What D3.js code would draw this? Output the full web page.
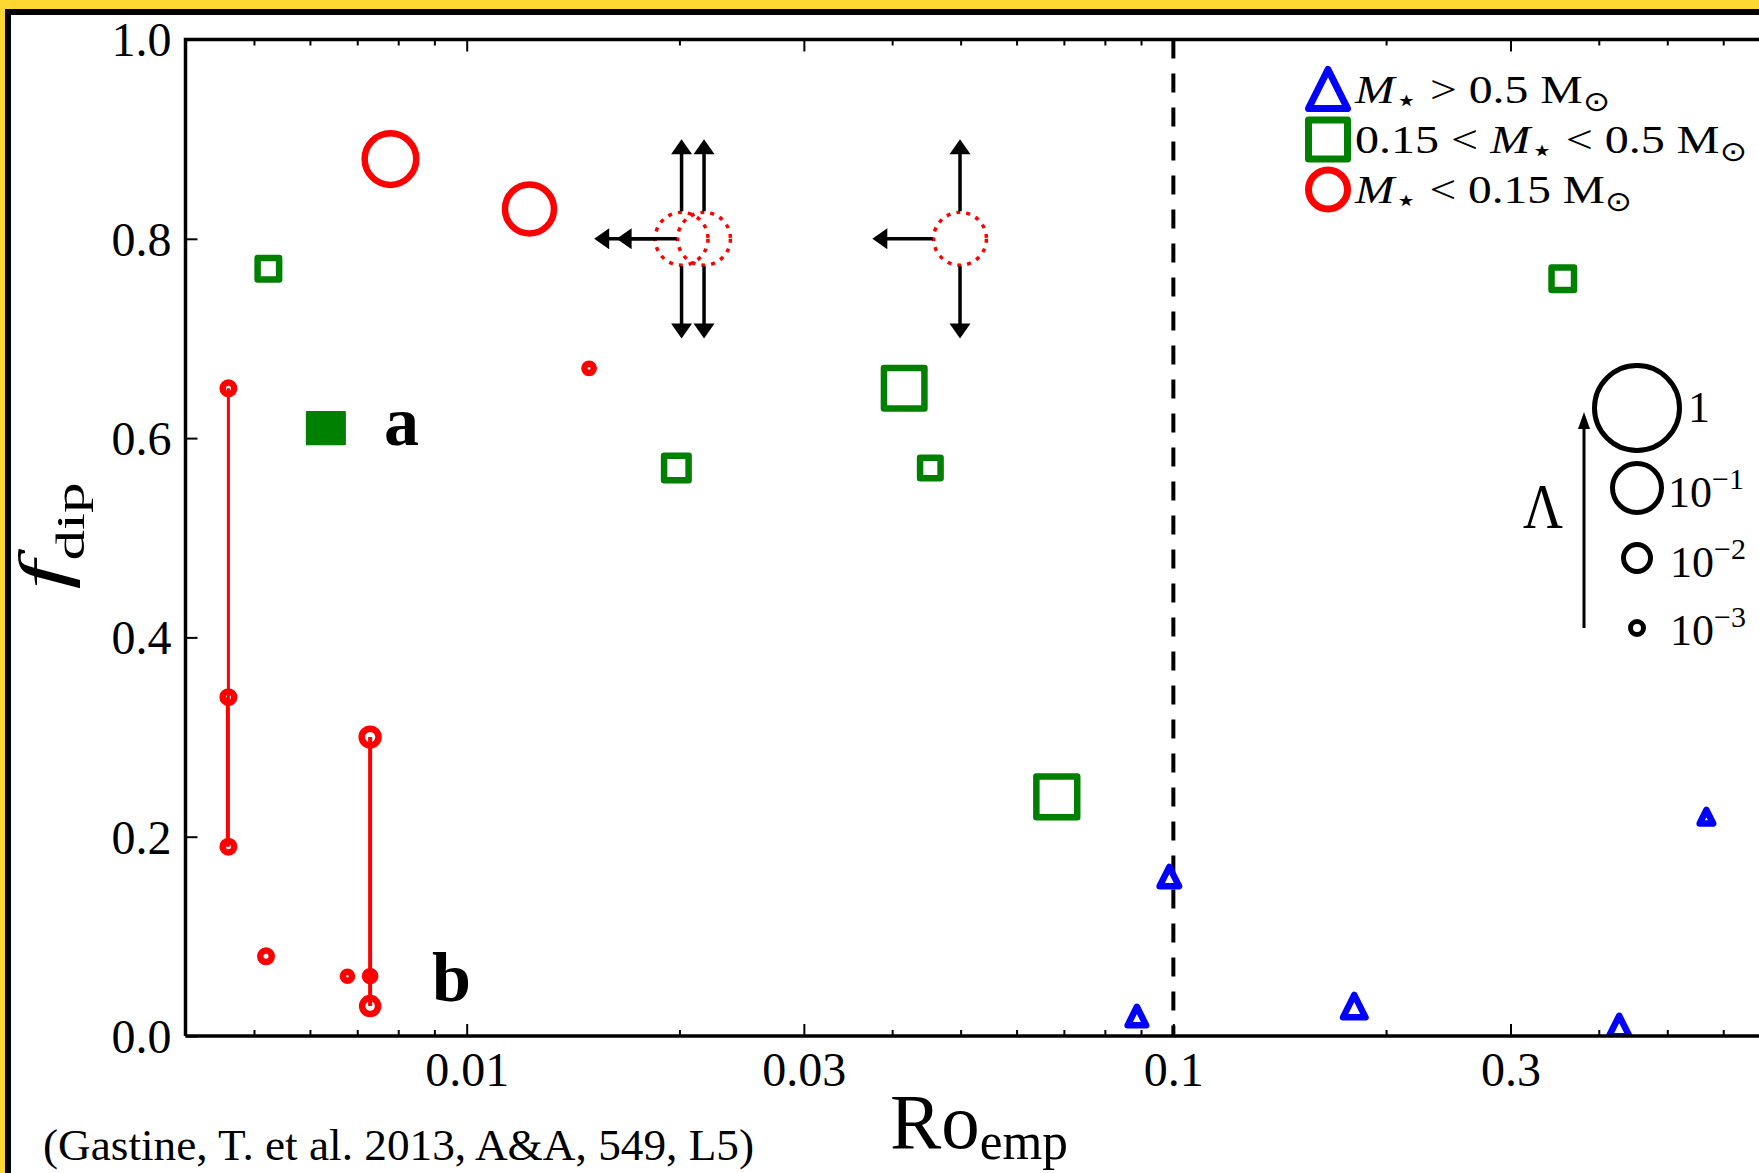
<!DOCTYPE html>
<html><head><meta charset="utf-8">
<script src="https://cdn.jsdelivr.net/npm/d3@7"></script>
<style>
body{margin:0;background:#fff}
svg{display:block}
text{font-family:"Liberation Serif","Times New Roman",serif;fill:#000}
</style>
</head><body>
<svg id="c" width="1759" height="1173"></svg>
<script>
// ---------------- DATA ----------------
// M* < 0.15 Msun (red circles): Ro_emp, f_dip, Lambda
const redX   = [0.0078, 0.01227, 0.0149, 0.0046, 0.0046, 0.0046, 0.0052, 0.00678, 0.0073, 0.0073, 0.0073];
const redY   = [0.88,   0.83,    0.67,   0.65,   0.34,   0.19,   0.08,   0.06,    0.30,   0.06,   0.03];
const redLam = [0.13,   0.11,    0.0007, 0.001,  0.001,  0.001,  0.001,  0.00067, 0.0024, 0.0008, 0.0021];
// multi-epoch links (same star observed several times)
const linkX  = [0.00460, 0.004585, 0.0073];
const linkY0 = [0.65,    0.34,     0.30];
const linkY1 = [0.19,    0.19,     0.03];
// upper limits (dotted red circles with arrows)
const ulX    = [0.02014, 0.02167, 0.0499];
const ulY    = [0.80,    0.80,    0.80];
const ulLam  = [0.12,    0.12,    0.12];
const ulLeftX = [0.01515, 0.0163, 0.0375];
const ulUpY   = [0.90, 0.90, 0.90];
const ulDownY = [0.70, 0.70, 0.70];
// 0.15 < M* < 0.5 Msun (green squares)
const grnX   = [0.00524, 0.0198, 0.0416, 0.0453, 0.0684, 0.3557];
const grnY   = [0.77,    0.57,   0.65,   0.57,   0.24,   0.76];
const grnLam = [0.0052,  0.0085, 0.048,  0.0044, 0.05,   0.0061];
// filled square "a"
const aX = [0.00632], aY = [0.61], aLam = [0.017];
// M* > 0.5 Msun (blue triangles)
const bluX   = [0.0987, 0.0888, 0.1803, 0.4275, 0.568, 0.70];
const bluY   = [0.16,   0.02,   0.03,   0.01,   0.22,  0.21];
const bluLam = [0.0037, 0.0032, 0.0061, 0.0044, 0.0014, 0.0014];
// size legend
const lamLegend = [1, 0.1, 0.01, 0.001];
const lamLabels = [["1",""], ["10","\u22121"], ["10","\u22122"], ["10","\u22123"]];
// axes
const xMajor = [0.01, 0.03, 0.1, 0.3];
const xMajorLabels = ["0.01", "0.03", "0.1", "0.3"];
const xMinor = [0.005,0.006,0.007,0.008,0.009,0.02,0.04,0.05,0.06,0.07,0.08,0.09,0.2,0.4,0.5,0.6,0.7,0.8,0.9];
const yTicks = [0, 0.2, 0.4, 0.6, 0.8, 1.0];
const yTickLabels = ["0.0","0.2","0.4","0.6","0.8","1.0"];
const roCrit = 0.1;

// ---------------- LAYOUT ----------------
const W = 1759, H = 1173;
const L = 185.5, T = 39.5, B = 1036, R = 1880;
const svg = d3.select('#c');
const x = d3.scaleLog().domain([0.004, 1]).range([L, R]);
const y = d3.scaleLinear().domain([0, 1]).range([B, T]);
const size = d3.scaleLog().domain([1e-3, 1e-2, 1e-1, 1]).range([18, 32, 54, 90]);

const RED = '#ff0000', GRN = '#008000', BLU = '#0000ff';

// frame
svg.append('rect').attr('width', W).attr('height', H).attr('fill', '#FFD731');
svg.append('rect').attr('x', 5).attr('y', 9).attr('width', W).attr('height', H).attr('fill', '#000');
svg.append('rect').attr('x', 11).attr('y', 15).attr('width', W).attr('height', H).attr('fill', '#fff');

svg.append('clipPath').attr('id', 'pc').append('rect')
  .attr('x', L).attr('y', T).attr('width', R - L).attr('height', B - T);
const plot = svg.append('g').attr('clip-path', 'url(#pc)');

// critical Rossby line
plot.append('line')
  .attr('x1', x(roCrit)).attr('x2', x(roCrit)).attr('y1', T).attr('y2', B)
  .attr('stroke', '#000').attr('stroke-width', 4).attr('stroke-dasharray', '19,15');

// links
plot.selectAll('.lnk').data(linkX).join('line')
  .attr('x1', d => x(d)).attr('x2', d => x(d))
  .attr('y1', (d, i) => y(linkY0[i])).attr('y2', (d, i) => y(linkY1[i]))
  .attr('stroke', RED).attr('stroke-width', (d, i) => i === 2 ? 4 : 3);

const SW = 6.5;
// red circles
plot.selectAll('.rc').data(redX).join('circle')
  .attr('cx', d => x(d)).attr('cy', (d, i) => y(redY[i]))
  .attr('r', (d, i) => Math.max(size(redLam[i]) / 2 - SW / 2, 0.8))
  .attr('fill', 'none').attr('stroke', RED).attr('stroke-width', SW);

// upper limits
plot.selectAll('.ul').data(ulX).join('circle')
  .attr('cx', d => x(d)).attr('cy', (d, i) => y(ulY[i]))
  .attr('r', (d, i) => size(ulLam[i]) / 2 - 2)
  .attr('fill', 'none').attr('stroke', RED).attr('stroke-width', 3.5).attr('stroke-dasharray', '4,6');

function arrow(g, x0, y0, x1, y1, sw, hw, hl) {
  const dx = x1 - x0, dy = y1 - y0, len = Math.hypot(dx, dy), ux = dx / len, uy = dy / len;
  const bx = x1 - ux * hl, by = y1 - uy * hl;
  g.append('line').attr('x1', x0).attr('y1', y0).attr('x2', bx + ux).attr('y2', by + uy)
    .attr('stroke', '#000').attr('stroke-width', sw);
  g.append('path').attr('d', `M${x1},${y1}L${bx - uy * hw / 2},${by + ux * hw / 2}L${bx + uy * hw / 2},${by - ux * hw / 2}Z`)
    .attr('fill', '#000');
}
ulX.forEach((d, i) => {
  const cx = x(d), cy = y(ulY[i]), r = size(ulLam[i]) / 2;
  arrow(plot, cx, cy - r + 1, cx, y(ulUpY[i]), 3.5, 21, 15);
  arrow(plot, cx, cy + r - 1, cx, y(ulDownY[i]), 3.5, 21, 15);
  arrow(plot, cx - r + 1, cy, x(ulLeftX[i]), cy, 3.5, 21, 15);
});

// green squares
function sqPath(s) { const h = (s - SW) / 2; return `M${-h},${-h}H${h}V${h}H${-h}Z`; }
plot.selectAll('.gs').data(grnX).join('path')
  .attr('transform', (d, i) => `translate(${x(d)},${y(grnY[i])})`)
  .attr('d', (d, i) => sqPath(size(grnLam[i])))
  .attr('fill', 'none').attr('stroke', GRN).attr('stroke-width', SW).attr('stroke-linejoin', 'round');
plot.selectAll('.ga').data(aX).join('rect')
  .attr('x', (d, i) => x(d) - size(aLam[i]) * 0.54 + 1).attr('y', (d, i) => y(aY[i]) - size(aLam[i]) * 0.46 + 1)
  .attr('width', (d, i) => size(aLam[i]) * 1.08 - 2).attr('height', (d, i) => size(aLam[i]) * 0.92 - 2)
  .attr('fill', GRN).attr('stroke', GRN).attr('stroke-width', 2).attr('stroke-linejoin', 'round');

// blue triangles
function triPath(s, sw) { const h = (s - sw) / 2; return `M0,${-h}L${h},${h}L${-h},${h}Z`; }
plot.selectAll('.bt').data(bluX).join('path')
  .attr('transform', (d, i) => `translate(${x(d)},${y(bluY[i])})`)
  .attr('d', (d, i) => triPath(size(bluLam[i]), SW))
  .attr('fill', 'none').attr('stroke', BLU).attr('stroke-width', SW).attr('stroke-linejoin', 'round');

// point labels
svg.append('text').attr('x', x(aX[0]) + 58).attr('y', y(aY[0]) + 17).attr('font-size', 70).attr('font-weight', 'bold').text('a');
svg.append('text').attr('x', x(0.0073) + 62).attr('y', y(0.035)).attr('font-size', 70).attr('font-weight', 'bold').text('b');

// ---------------- AXES ----------------
function styleAxis(g) {
  g.select('.domain').remove();
  g.selectAll('.tick line').attr('stroke', '#000').attr('stroke-width', 2);
}
const gB = svg.append('g').attr('transform', `translate(0,${B})`)
  .call(d3.axisBottom(x).tickValues(xMajor).tickSize(-12).tickPadding(14).tickFormat((d, i) => xMajorLabels[i]));
styleAxis(gB);
gB.selectAll('.tick text').attr('font-size', 48).attr('font-family', '"Liberation Serif",serif').attr('y', 16).attr('dy', '0.71em');
svg.append('g').attr('transform', `translate(0,${B})`)
  .call(d3.axisBottom(x).tickValues(xMinor).tickSize(-6).tickFormat('')).call(styleAxis);
svg.append('g').attr('transform', `translate(0,${T})`)
  .call(d3.axisTop(x).tickValues(xMajor).tickSize(-12).tickFormat('')).call(styleAxis);
svg.append('g').attr('transform', `translate(0,${T})`)
  .call(d3.axisTop(x).tickValues(xMinor).tickSize(-6).tickFormat('')).call(styleAxis);
const gL = svg.append('g').attr('transform', `translate(${L},0)`)
  .call(d3.axisLeft(y).tickValues(yTicks).tickSize(-12).tickPadding(14).tickFormat((d, i) => yTickLabels[i]));
styleAxis(gL);
gL.selectAll('.tick text').attr('font-size', 48).attr('font-family', '"Liberation Serif",serif').attr('dy', '0.34em');
// spines
svg.append('path').attr('d', `M${L},${B}V${T}H${W + 5}M${L},${B}H${W + 5}`)
  .attr('fill', 'none').attr('stroke', '#000').attr('stroke-width', 3.5);

// ---------------- TEXT ----------------
function rich(parent, x0, y0, fs, parts, opts = {}) {
  const t = parent.append('text').attr('font-size', fs);
  if (opts.transform) t.attr('transform', opts.transform); else t.attr('x', x0).attr('y', y0);
  if (opts.anchor) t.attr('text-anchor', opts.anchor);
  let cur = 0;
  parts.forEach(p => {
    const shift = p.sub ? fs * (p.shift || 0.22) : p.sup ? -fs * (p.shift || 0.42) : 0;
    const ts = t.append('tspan').text(p.t).attr('dy', shift - cur);
    cur = shift;
    if (p.fs) ts.attr('font-size', p.fs);
    else if (p.sub || p.sup) ts.attr('font-size', fs * 0.7);
    if (p.it) ts.attr('font-style', 'italic');
    if (p.font) ts.attr('font-family', p.font);
  });
  if (opts.width) t.attr('textLength', opts.width).attr('lengthAdjust', 'spacingAndGlyphs');
  return t;
}
const SYM = '"DejaVu Sans","DejaVu Serif",sans-serif';
// axis labels
rich(svg, 890, 1148, 78, [{t: 'Ro'}, {t: 'emp', sub: true, fs: 52, shift: 0.14}], {width: 178});
rich(svg, 0, 0, 68, [{t: 'f', it: true}, {t: 'dip', sub: true, fs: 40, shift: 0.26}],
  {transform: 'translate(66,536) rotate(-90)', anchor: 'middle', width: 107});
// citation
svg.append('text').attr('x', 43).attr('y', 1160).attr('font-size', 45)
  .attr('textLength', 711).attr('lengthAdjust', 'spacingAndGlyphs')
  .text('(Gastine, T. et al. 2013, A&A, 549, L5)');

// mass legend
const legY = [89, 139.5, 189.5];
const LX = 1328, LS = 46, LSW = 7;
svg.append('path').attr('transform', `translate(${LX},${legY[0]})`).attr('d', triPath(LS, LSW))
  .attr('fill', 'none').attr('stroke', BLU).attr('stroke-width', LSW).attr('stroke-linejoin', 'round');
svg.append('path').attr('transform', `translate(${LX},${legY[1]})`)
  .attr('d', (() => { const h = (LS - LSW) / 2; return `M${-h},${-h}H${h}V${h}H${-h}Z`; })())
  .attr('fill', 'none').attr('stroke', GRN).attr('stroke-width', LSW).attr('stroke-linejoin', 'round');
svg.append('circle').attr('cx', LX).attr('cy', legY[2]).attr('r', (LS - LSW) / 2)
  .attr('fill', 'none').attr('stroke', RED).attr('stroke-width', LSW);
const star = {t: '\u22C6', sub: true, fs: 32, font: SYM, shift: 0.2};
const sun = {t: '\u2299', sub: true, fs: 28, font: SYM, shift: 0.2};
rich(svg, 1355, 103, 41, [{t: 'M', it: true}, star, {t: ' > 0.5 M'}, sun], {width: 255});
rich(svg, 1355, 153, 41, [{t: '0.15 < '}, {t: 'M', it: true}, star, {t: ' < 0.5 M'}, sun], {width: 392});
rich(svg, 1355, 203, 41, [{t: 'M', it: true}, star, {t: ' < 0.15 M'}, sun], {width: 277});

// Lambda size legend
const sizeLegY = [408, 488, 558, 628];
const SLX = 1637;
svg.selectAll('.sl').data(lamLegend).join('circle')
  .attr('cx', SLX).attr('cy', (d, i) => sizeLegY[i]).attr('r', d => size(d) / 2 - 2.5)
  .attr('fill', 'none').attr('stroke', '#000').attr('stroke-width', 5);
lamLabels.forEach((lb, i) => {
  const parts = [{t: lb[0]}];
  if (lb[1]) parts.push({t: lb[1], sup: true, fs: 30, shift: 0.4});
  rich(svg, i === 0 ? 1688 : 1668 + (i > 1 ? 2 : 0), sizeLegY[i] + [14, 19, 19, 17][i], 44, parts);
});
arrow(svg, 1584, 628, 1584, 412, 3, 12, 17);
svg.append('text').attr('x', 1523).attr('y', 528).attr('font-size', 64)
  .attr('textLength', 40).attr('lengthAdjust', 'spacingAndGlyphs').text('\u039B');
</script>
</body></html>
